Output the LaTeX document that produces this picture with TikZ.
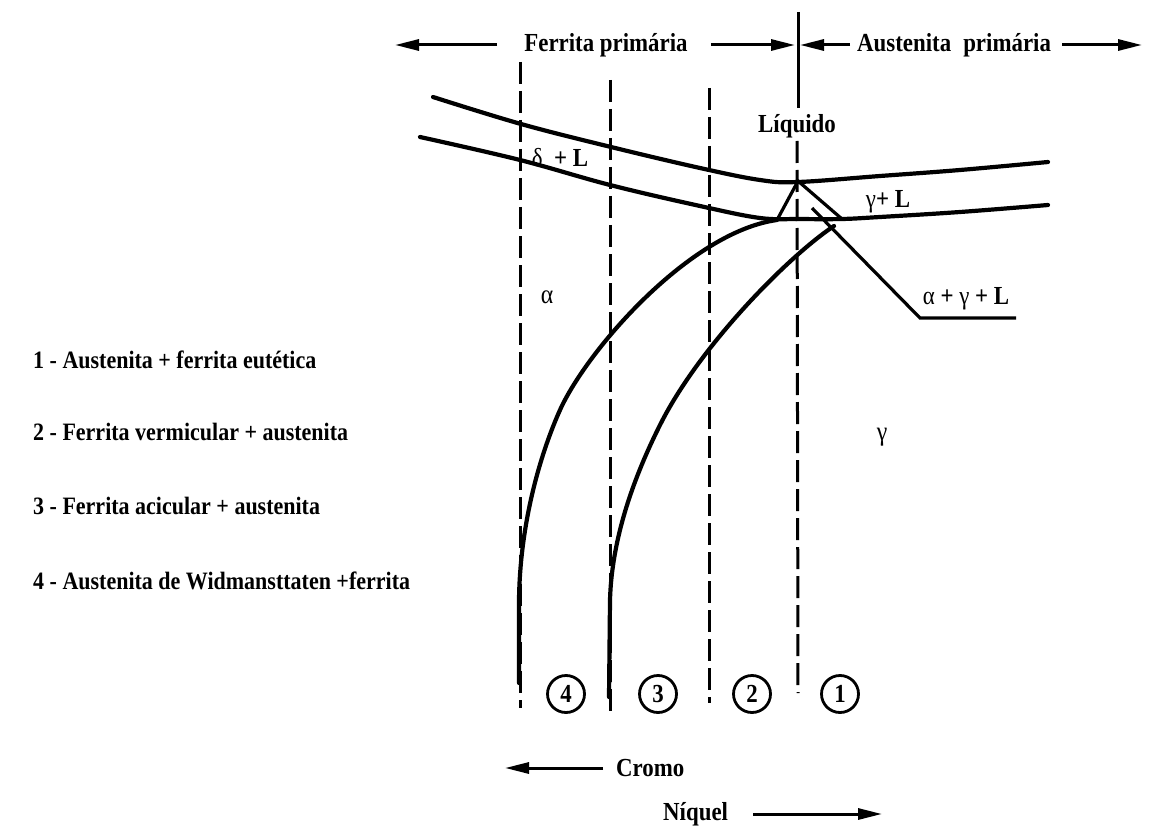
\documentclass[tikz,border=0pt]{standalone}
\usepackage{fontspec}
\setmainfont{Liberation Serif}[FakeStretch=0.88]
\usetikzlibrary{arrows.meta,calc}

\begin{document}
\begin{tikzpicture}[
  % --- one unit = one pixel of the reference, y pointing down
  x=1pt, y=-1pt,
  % --- line styles
  phase/.style={line width=4.2pt, line cap=round},
  guide/.style={line width=3pt, dash pattern=on 22pt off 7pt},
  tie/.style={line width=3.2pt},
  axisarrow/.style={line width=3pt, -{Triangle[length=24pt,width=11pt]}},
  % --- text styles
  lbl/.style={font=\fontsize{26}{30}\selectfont\bfseries, inner sep=1pt},
  greek/.style={font=\fontsize{27}{30}\selectfont, inner sep=1pt},
  legend/.style={font=\fontsize{25}{30}\selectfont\bfseries, anchor=west, inner sep=0pt},
  zone/.style={circle, draw, line width=2.8pt, minimum size=37pt, inner sep=0pt,
    font=\fontsize{26}{28}\selectfont\bfseries},
]
\useasboundingbox (0,0) rectangle (1175,829);

%========================
% Top axis: primary phase
%========================
\node[lbl] (ferrita) at (606,45) {Ferrita primária};
\node[lbl, anchor=west] (austenita) at (856,45) {Austenita\hspace{12pt}primária};
\coordinate (ferL) at (395,45);
\coordinate (ferR) at (795,45);
\coordinate (ausL) at (800,45);
\coordinate (ausR) at (1142,45);
\draw[axisarrow] ([xshift=-26pt]ferrita.west) -- (ferL);
\draw[axisarrow] ([xshift=22pt]ferrita.east) -- (ferR);
\draw[axisarrow] ([xshift=-6pt]austenita.west) -- (ausL);
\draw[axisarrow] ([xshift=10pt]austenita.east) -- (ausR);

% solid divider above the liquid label
\coordinate (divTop) at (798,12);
\coordinate (divBot) at (798,108);
\draw[line width=3pt] (divTop) -- (divBot);

\node[lbl, fill=white, inner sep=3pt] (liquido) at (797,126) {Líquido};

%========================
% Dashed composition lines
%========================
\foreach \gx/\gtop/\gbot in {520/62/708, 610/80/715, 709/88/703}
  \draw[guide] (\gx,\gtop) -- (\gx,\gbot);
\coordinate (g1Bot) at (798,693);
\draw[guide] (liquido.south) -- (g1Bot);

%========================
% Liquidus / solidus
%========================
\draw[phase] plot[smooth, tension=0.6] coordinates
  {(433,97) (521,124) (611,147) (700,168) (760,180) (798,182) (880,176) (960,170) (1048,162)};
\draw[phase] plot[smooth, tension=0.6] coordinates
  {(420,137) (520,160) (610,185) (700,206) (760,218) (800,219) (842,219) (880,217) (960,212) (1048,205)};

% solvus curves
\coordinate (aTop) at (777,220);
\coordinate (aMid) at (560,410);
\coordinate (aLow) at (519,600);
\coordinate (aEnd) at (519,683);
\draw[phase] (aTop) .. controls (690,232) and (587,350) .. (aMid)
  .. controls (542,450) and (520,520) .. (aLow) -- (aEnd);

\coordinate (bTop) at (834,226);
\coordinate (bMid) at (660,425);
\coordinate (bLow) at (610,600);
\coordinate (bEnd) at (609,697);
\draw[phase] (bTop) .. controls (790,255) and (700,345) .. (bMid)
  .. controls (640,465) and (612,530) .. (bLow) -- (bEnd);

% three-phase triangle and its leader
\coordinate (triL) at (777,220);
\coordinate (triTop) at (798,181);
\coordinate (triR) at (842,219);
\draw[tie, line join=miter] (triL) -- (triTop) -- (triR);
\coordinate (leadA) at (812,208);
\coordinate (leadB) at (920,318);
\coordinate (leadC) at (1016,318);
\draw[tie] (leadA) -- (leadB) -- (leadC);

%========================
% Region labels
%========================
\node[lbl] (dL) at (560,158) {{\mdseries δ}\ \ + L};
\node[lbl] (gL) at (888,202) {{\mdseries γ}+ L};
\node[lbl] (agL) at (966,299) {{\mdseries α} + {\mdseries γ} + L};
\node[greek] (alpha) at (547,297) {α};
\node[greek] (gamma) at (882,437) {γ};

% numbered zones
\node[zone] (z4) at (566,694) {4};
\node[zone] (z3) at (658,694) {3};
\node[zone] (z2) at (752,694) {2};
\node[zone] (z1) at (840,694) {1};

%========================
% Bottom axes
%========================
\node[lbl, anchor=west] (cromo) at (615,768) {Cromo};
\coordinate (crL) at (505,768);
\draw[axisarrow] ([xshift=-12pt]cromo.west) -- (crL);

\node[lbl, anchor=west] (niquel) at (662,814) {Níquel};
\coordinate (niR) at (882,814);
\draw[axisarrow] ([xshift=24pt]niquel.east) -- (niR);

%========================
% Legend
%========================
\node[legend] (leg1) at (33,360) {1 - Austenita + ferrita eutética};
\node[legend] (leg2) at (33,432) {2 - Ferrita vermicular + austenita};
\node[legend] (leg3) at (33,506) {3 - Ferrita acicular + austenita};
\node[legend] (leg4) at (33,581) {4 - Austenita de Widmansttaten +ferrita};

\end{tikzpicture}
\end{document}
